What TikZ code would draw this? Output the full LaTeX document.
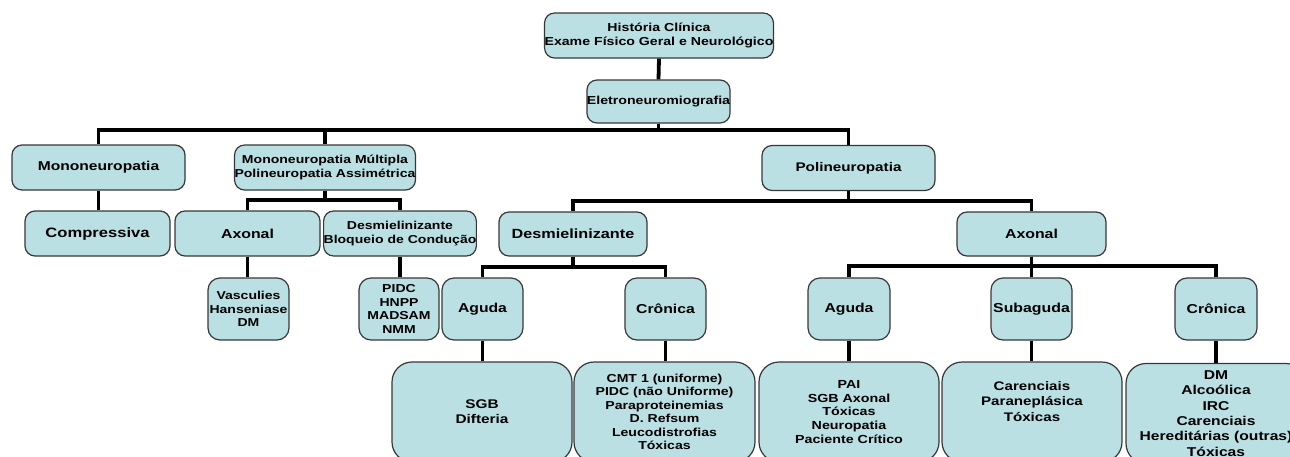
\documentclass[tikz,border=0pt]{standalone}
\usepackage{fontspec}
\newfontfamily\labfont{Liberation Sans}[FakeStretch=1.22]
\newcommand\lf[2]{\labfont\bfseries\fontsize{#1}{#2}\selectfont}
\definecolor{boxfill}{RGB}{187,224,227}
\definecolor{boxline}{RGB}{55,55,55}
\tikzset{
  box/.style={draw=boxline, fill=boxfill, line width=1.2pt, rounded corners=10pt,
    inner sep=0pt, align=center, text=black},
  conn/.style={line width=3.8pt, black, line join=miter},
}
\begin{document}
\begin{tikzpicture}[x=1pt,y=-1pt]
\useasboundingbox (0,0) rectangle (1290,456);
\clip (0,0) rectangle (1290,456);
% bus coordinates
\coordinate (b1) at (0,130);
\coordinate (b2) at (0,200);
\coordinate (b3) at (0,201);
\coordinate (b4) at (0,267);
\coordinate (b5) at (0,266);

% level 0/1
\node[box, minimum width=220pt, minimum height=45pt, font=\lf{11.6}{13.3}] (hist) at (659,35.5) {História Clínica\\Exame Físico Geral e Neurológico};
\node[box, minimum width=137pt, minimum height=43pt, font=\lf{11.6}{13.3}] (eletro) at (658.5,101.5) {Eletroneuromiografia};

% level 2
\node[box, minimum width=173pt, minimum height=45pt, font=\lf{12.8}{14}] (mono) at (98.5,167.5) {Mononeuropatia};
\node[box, minimum width=176pt, minimum height=45pt, font=\lf{11.5}{13.3}] (mmult) at (325,167.5) {Mononeuropatia Múltipla\\Polineuropatia Assimétrica};
\node[box, minimum width=173pt, minimum height=45pt, font=\lf{12.5}{14}] (poli) at (848.5,168) {Polineuropatia};

% level 3
\node[box, minimum width=145pt, minimum height=45pt, font=\lf{13.6}{14}] (compr) at (97.5,233.5) {Compressiva};
\node[box, minimum width=145pt, minimum height=45pt, font=\lf{13}{14}] (axl) at (247.5,233.5) {Axonal};
\node[box, minimum width=150pt, minimum height=45pt, font=\lf{11.5}{13.3}] (dbl) at (400,233.5) {Desmielinizante\\Bloqueio de Condução};
\node[box, minimum width=148pt, minimum height=44pt, font=\lf{13.3}{14}] (desm) at (573,234) {Desmielinizante};
\node[box, minimum width=149pt, minimum height=44pt, font=\lf{13}{14}] (axr) at (1031.5,234) {Axonal};

% level 4
\node[box, rounded corners=12pt, minimum width=81pt, minimum height=62pt, font=\lf{11.5}{13.5}] (vasc) at (248.5,309) {Vasculies\\Hanseniase\\DM};
\node[box, rounded corners=12pt, minimum width=80pt, minimum height=62pt, font=\lf{11.5}{13.7}] (pidc) at (399,309) {PIDC\\HNPP\\MADSAM\\NMM};
\node[box, rounded corners=12pt, minimum width=81pt, minimum height=62pt, font=\lf{12.9}{14}] (agd) at (482.5,309) {Aguda};
\node[box, rounded corners=12pt, minimum width=81pt, minimum height=62pt, font=\lf{12.9}{14}] (crd) at (665.5,309) {Crônica};
\node[box, rounded corners=12pt, minimum width=82pt, minimum height=62pt, font=\lf{12.9}{14}] (aga) at (849,309) {Aguda};
\node[box, rounded corners=12pt, minimum width=81pt, minimum height=62pt, font=\lf{13}{14}] (sub) at (1031.5,309) {Subaguda};
\node[box, rounded corners=12pt, minimum width=82pt, minimum height=62pt, font=\lf{12.9}{14}] (cra) at (1216,309) {Crônica};

% level 5 (cut off at the bottom)
\node[box, rounded corners=20pt, minimum width=180pt, minimum height=100pt, font=\lf{12.6}{15}] (sgb) at (482,412) {SGB\\Difteria};
\node[box, rounded corners=20pt, minimum width=181pt, minimum height=100pt, font=\lf{11.55}{13.5}] (cmt) at (664.5,412) {CMT 1 (uniforme)\\PIDC (não Uniforme)\\Paraproteinemias\\D. Refsum\\Leucodistrofias\\Tóxicas};
\node[box, rounded corners=20pt, minimum width=180pt, minimum height=100pt, font=\lf{11.7}{13.8}] (pai) at (849,412) {PAI\\SGB Axonal\\Tóxicas\\Neuropatia\\Paciente Crítico};
\node[box, rounded corners=20pt, minimum width=180pt, minimum height=100pt, font=\lf{12.4}{15.5}] (car) at (1032,412) {Carenciais\\Paraneplásica\\Tóxicas\\[6pt]\mbox{}};
\node[box, rounded corners=20pt, minimum width=180pt, minimum height=100pt, font=\lf{12.8}{15.3}] (crt) at (1216,413.5) {DM\\Alcoólica\\IRC\\Carenciais\\Hereditárias (outras)\\Tóxicas};

% connectors
\draw[conn] (hist.south) -- (eletro.north);
\draw[conn] (eletro.south) -- (eletro.south |- b1) -| (mono.north);
\draw[conn] (eletro.south) -- (eletro.south |- b1) -| (mmult.north);
\draw[conn] (eletro.south) -- (eletro.south |- b1) -| (poli.north);

\draw[conn] (mono.south) -- (mono.south |- compr.north);
\draw[conn] (mmult.south) -- (mmult.south |- b2) -| (axl.north);
\draw[conn] (mmult.south) -- (mmult.south |- b2) -| (dbl.north);
\draw[conn] (poli.south) -- (poli.south |- b3) -| (desm.north);
\draw[conn] (poli.south) -- (poli.south |- b3) -| (axr.north);

\draw[conn] (axl.south) -- (axl.south |- vasc.north);
\draw[conn] (dbl.south) -- (dbl.south |- pidc.north);
\draw[conn] (desm.south) -- (desm.south |- b4) -| (agd.north);
\draw[conn] (desm.south) -- (desm.south |- b4) -| (crd.north);
\draw[conn] (axr.south) -- (axr.south |- b5) -| (aga.north);
\draw[conn] (axr.south) -- (axr.south |- b5) -| (sub.north);
\draw[conn] (axr.south) -- (axr.south |- b5) -| (cra.north);

\draw[conn] (agd.south) -- (agd.south |- sgb.north);
\draw[conn] (crd.south) -- (crd.south |- cmt.north);
\draw[conn] (aga.south) -- (aga.south |- pai.north);
\draw[conn] (sub.south) -- (sub.south |- car.north);
\draw[conn] (cra.south) -- (cra.south |- crt.north);
\end{tikzpicture}
\end{document}
